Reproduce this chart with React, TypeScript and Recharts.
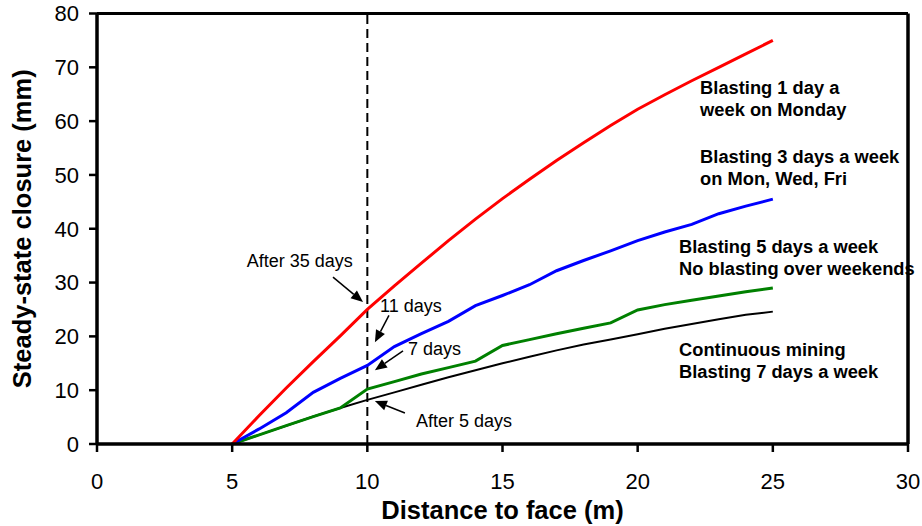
import React from "react";
import {
  LineChart,
  Line,
  XAxis,
  YAxis,
  Label,
  ReferenceLine,
  ReferenceDot,
} from "recharts";

// distance to face (m)
const distance = [5, 6, 7, 8, 9, 10, 11, 12, 13, 14, 15, 16, 17, 18, 19, 20, 21, 22, 23, 24, 25];

// steady-state closure (mm)
const blast1Day = [0, 5.3, 10.4, 15.3, 20.1, 25.0, 29.4, 33.6, 37.8, 41.8, 45.6, 49.2, 52.7, 56.0, 59.2, 62.2, 64.9, 67.5, 70.0, 72.5, 75.0];
const blast3Days = [0, 2.8, 5.8, 9.6, 12.2, 14.6, 18.1, 20.5, 22.8, 25.7, 27.6, 29.6, 32.2, 34.1, 35.9, 37.8, 39.4, 40.8, 42.8, 44.2, 45.5];
const blast5Days = [0, 1.7, 3.4, 5.1, 6.7, 10.2, 11.6, 13.0, 14.2, 15.4, 18.3, 19.4, 20.5, 21.5, 22.5, 24.9, 25.9, 26.7, 27.5, 28.3, 29.0];
const continuous = [0, 1.7, 3.4, 5.1, 6.7, 8.2, 9.6, 11.0, 12.4, 13.7, 15.0, 16.2, 17.4, 18.5, 19.4, 20.4, 21.4, 22.3, 23.2, 24.0, 24.6];

const xTicks = [0, 5, 10, 15, 20, 25, 30];
const yTicks = [0, 10, 20, 30, 40, 50, 60, 70, 80];

const data = distance.map((x, i) => ({
  x,
  b1: blast1Day[i],
  b3: blast3Days[i],
  b5: blast5Days[i],
  b7: continuous[i],
}));

// annotation texts (x, y in data units; text left/baseline)
const notes = [
  { x: 5.54, y: 32.9, lines: ["After 35 days"], bold: false },
  { x: 10.47, y: 24.5, lines: ["11 days"], bold: false },
  { x: 11.5, y: 16.5, lines: ["7 days"], bold: false },
  { x: 11.8, y: 3.15, lines: ["After 5 days"], bold: false },
  { x: 22.31, y: 65.1, lines: ["Blasting 1 day a", "week on Monday"], bold: true },
  { x: 22.31, y: 52.3, lines: ["Blasting 3 days a week", "on Mon, Wed, Fri"], bold: true },
  { x: 21.53, y: 35.5, lines: ["Blasting 5 days a week", "No blasting over weekends"], bold: true },
  { x: 21.53, y: 16.3, lines: ["Continuous mining", "Blasting 7 days a week"], bold: true },
];

// arrows: from -> tip
const arrows = [
  { from: [8.73, 31.0], to: [9.84, 26.4] },
  { from: [10.8, 23.9], to: [10.28, 18.9] },
  { from: [11.32, 17.3], to: [10.28, 13.7] },
  { from: [11.39, 5.75], to: [10.28, 7.98] },
];

const FONT = "'Liberation Sans', Arial, sans-serif";

const ArrowShape = (props: any) => {
  const { x1, y1, x2, y2 } = props;
  const ang = Math.atan2(y2 - y1, x2 - x1);
  const len = 12;
  const half = 5;
  const bx = x2 - len * Math.cos(ang);
  const by = y2 - len * Math.sin(ang);
  const px = -Math.sin(ang) * half;
  const py = Math.cos(ang) * half;
  return (
    <g>
      <line x1={x1} y1={y1} x2={bx} y2={by} stroke="#000" strokeWidth={1.5} />
      <polygon
        points={`${x2},${y2} ${bx + px},${by + py} ${bx - px},${by - py}`}
        fill="#000"
      />
    </g>
  );
};

const makeNote = (lines: string[], bold: boolean) => (props: any) => {
  const { cx, cy } = props;
  return (
    <text
      x={cx}
      y={cy}
      fontFamily={FONT}
      fontSize={bold ? 18.3 : 18}
      fontWeight={bold ? "bold" : "normal"}
      fill="#000"
    >
      {lines.map((l, i) => (
        <tspan key={i} x={cx} dy={i === 0 ? 0 : 22}>
          {l}
        </tspan>
      ))}
    </text>
  );
};

export default function App() {
  return (
    <div style={{ position: "absolute", left: 0, top: 0, background: "#fff" }}>
      <LineChart
        width={922}
        height={526}
        data={data}
        margin={{ top: 13.5, right: 14, bottom: 0, left: 0 }}
        style={{ fontFamily: FONT }}
      >
        <XAxis
          dataKey="x"
          type="number"
          domain={[0, 30]}
          ticks={xTicks}
          height={82}
          tickSize={8}
          tickMargin={21}
          axisLine={{ stroke: "#000", strokeWidth: 3.5 }}
          tickLine={{ stroke: "#000", strokeWidth: 2.5 }}
          tick={{ fill: "#000", fontSize: 22, fontFamily: FONT }}
        >
          <Label
            value="Distance to face (m)"
            position="insideBottom"
            offset={7}
            style={{ fontSize: 25.5, fontWeight: "bold", fill: "#000", fontFamily: FONT }}
          />
        </XAxis>
        <YAxis
          type="number"
          domain={[0, 80]}
          ticks={yTicks}
          width={97}
          tickSize={8}
          tickMargin={10}
          axisLine={{ stroke: "#000", strokeWidth: 3.5 }}
          tickLine={{ stroke: "#000", strokeWidth: 2.5 }}
          tick={{ fill: "#000", fontSize: 22, fontFamily: FONT }}
        >
          <Label
            value="Steady-state closure (mm)"
            angle={-90}
            position="insideLeft"
            offset={22}
            style={{ fontSize: 25.5, fontWeight: "bold", fill: "#000", textAnchor: "middle", fontFamily: FONT }}
          />
        </YAxis>

        <ReferenceLine y={80} stroke="#000" strokeWidth={3} />
        <ReferenceLine x={30} stroke="#000" strokeWidth={3.5} />
        <ReferenceLine x={10} stroke="#000" strokeWidth={2} strokeDasharray="9 5" />

        <Line dataKey="b7" type="linear" stroke="#000" strokeWidth={2} dot={false} isAnimationActive={false} />
        <Line dataKey="b5" type="linear" stroke="#008000" strokeWidth={3} dot={false} isAnimationActive={false} />
        <Line dataKey="b3" type="linear" stroke="#0000ff" strokeWidth={3} dot={false} isAnimationActive={false} />
        <Line dataKey="b1" type="linear" stroke="#ff0000" strokeWidth={3} dot={false} isAnimationActive={false} />

        {arrows.map((a, i) => (
          <ReferenceLine
            key={`arrow-${i}`}
            segment={[
              { x: a.from[0], y: a.from[1] },
              { x: a.to[0], y: a.to[1] },
            ]}
            shape={ArrowShape}
          />
        ))}
        {notes.map((n, i) => (
          <ReferenceDot
            key={`note-${i}`}
            x={n.x}
            y={n.y}
            r={0}
            ifOverflow="visible"
            shape={makeNote(n.lines, n.bold)}
          />
        ))}
      </LineChart>
    </div>
  );
}
